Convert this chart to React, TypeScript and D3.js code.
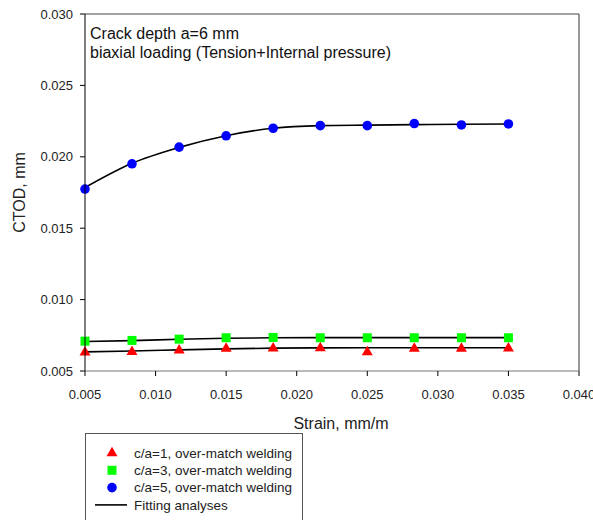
import * as d3 from "d3";

const W = 593;
const H = 520;
const MARGIN = { top: 14, right: 14, bottom: 149, left: 85 };
const FONT = "'Liberation Sans', Arial, Helvetica, sans-serif";

// strain values (mm/m) where each series was measured
const strain = [0.005, 0.00833, 0.01167, 0.015, 0.01833, 0.02167, 0.025, 0.02833, 0.03167, 0.035];

// measured CTOD (mm)
const ctodCa1 = [0.00637, 0.00642, 0.00651, 0.00664, 0.00666, 0.00668, 0.0064, 0.00664, 0.00664, 0.00666];
const ctodCa3 = [0.00709, 0.00714, 0.00723, 0.00733, 0.00735, 0.00733, 0.00733, 0.00733, 0.00733, 0.00733];
const ctodCa5 = [0.01774, 0.01951, 0.02068, 0.02147, 0.022, 0.02218, 0.02218, 0.02233, 0.02223, 0.0223];

// fitted curves at the same strains
const fitCa1 = [0.00634, 0.0064, 0.00648, 0.00655, 0.0066, 0.00662, 0.00663, 0.00663, 0.00663, 0.00663];
const fitCa3 = [0.00706, 0.00713, 0.00722, 0.00729, 0.00733, 0.00734, 0.00734, 0.00734, 0.00734, 0.00734];
const fitCa5 = [0.01785, 0.01955, 0.02066, 0.02148, 0.022, 0.02218, 0.02222, 0.02225, 0.02228, 0.0223];

const xTicks = [0.005, 0.01, 0.015, 0.02, 0.025, 0.03, 0.035, 0.04];
const yTicks = [0.005, 0.01, 0.015, 0.02, 0.025, 0.03];

const legendLabels = [
  "c/a=1, over-match welding",
  "c/a=3, over-match welding",
  "c/a=5, over-match welding",
  "Fitting analyses",
];
const noteLines = ["Crack depth a=6 mm", "biaxial loading (Tension+Internal pressure)"];

export default function App() {
  const x0 = MARGIN.left;
  const x1 = W - MARGIN.right;
  const y0 = MARGIN.top;
  const y1 = H - MARGIN.bottom;

  const x = d3.scaleLinear().domain([0.005, 0.04]).range([x0, x1]);
  const y = d3.scaleLinear().domain([0.005, 0.03]).range([y1, y0]);

  const line = d3
    .line<number>()
    .x((_, i) => x(strain[i]))
    .y((d) => y(d))
    .curve(d3.curveMonotoneX);

  const tri = d3.symbol(d3.symbolTriangle, 52)();
  const sq = d3.symbol(d3.symbolSquare, 81)();

  return (
    <svg
      width={W}
      height={H}
      style={{ position: "absolute", left: 0, top: 0, background: "#fff" }}
      fontFamily={FONT}
    >
      {/* frame */}
      <line x1={x0} x2={x1} y1={y0} y2={y0} stroke="#444" />
      <line x1={x1} x2={x1} y1={y0} y2={y1} stroke="#333" />

      {/* fitted curves */}
      {[fitCa1, fitCa3, fitCa5].map((f, i) => (
        <path key={i} d={line(f) || ""} fill="none" stroke="#000" strokeWidth={1.6} />
      ))}

      {/* markers */}
      {ctodCa1.map((v, i) => (
        <path key={"a" + i} d={tri || ""} transform={`translate(${x(strain[i])},${y(v) + 1})`} fill="#ff0000" />
      ))}
      {ctodCa3.map((v, i) => (
        <path key={"b" + i} d={sq || ""} transform={`translate(${x(strain[i])},${y(v)})`} fill="#00ff00" />
      ))}
      {ctodCa5.map((v, i) => (
        <circle key={"c" + i} cx={x(strain[i])} cy={y(v)} r={4.8} fill="#0000ff" />
      ))}

      {/* y axis */}
      <line x1={x0} x2={x0} y1={y0} y2={y1} stroke="#000" />
      {yTicks.map((t) => (
        <g key={t} transform={`translate(0,${y(t)})`}>
          <line x1={x0 - 5} x2={x0} stroke="#000" />
          <text x={x0 - 12} dy="0.35em" textAnchor="end" fontSize={13} fill="#222">
            {d3.format(".3f")(t)}
          </text>
        </g>
      ))}
      <text
        transform={`translate(25,${(y0 + y1) / 2}) rotate(-90)`}
        textAnchor="middle"
        fontSize={16}
        fill="#222"
      >
        CTOD, mm
      </text>

      {/* x axis */}
      <line x1={x0} x2={x1} y1={y1} y2={y1} stroke="#777" />
      {xTicks.map((t) => (
        <g key={t} transform={`translate(${x(t)},0)`}>
          <line y1={y1} y2={y1 + 5} stroke="#000" />
          <text y={y1 + 28} textAnchor="middle" fontSize={13} fill="#222">
            {d3.format(".3f")(t)}
          </text>
        </g>
      ))}
      <text x={341} y={429} textAnchor="middle" fontSize={16} fill="#222">
        Strain, mm/m
      </text>

      {/* note */}
      {noteLines.map((s, i) => (
        <text key={s} x={90} y={39 + i * 18.6} fontSize={16} fill="#111">
          {s}
        </text>
      ))}

      {/* legend */}
      <rect x={85.5} y={433.5} width={217} height={100} fill="#fff" stroke="#555" />
      {legendLabels.map((s, i) => {
        const cy = 453 + i * 17.3;
        return (
          <g key={s}>
            {i === 0 && <path d={tri || ""} transform={`translate(112,${cy})`} fill="#ff0000" />}
            {i === 1 && <path d={sq || ""} transform={`translate(112,${cy})`} fill="#00ff00" />}
            {i === 2 && <circle cx={112} cy={cy} r={4.8} fill="#0000ff" />}
            {i === 3 && <line x1={95} x2={127} y1={cy} y2={cy} stroke="#000" strokeWidth={1.6} />}
            <text x={134} y={cy} dy="0.35em" fontSize={13.5} fill="#222">
              {s}
            </text>
          </g>
        );
      })}
    </svg>
  );
}
